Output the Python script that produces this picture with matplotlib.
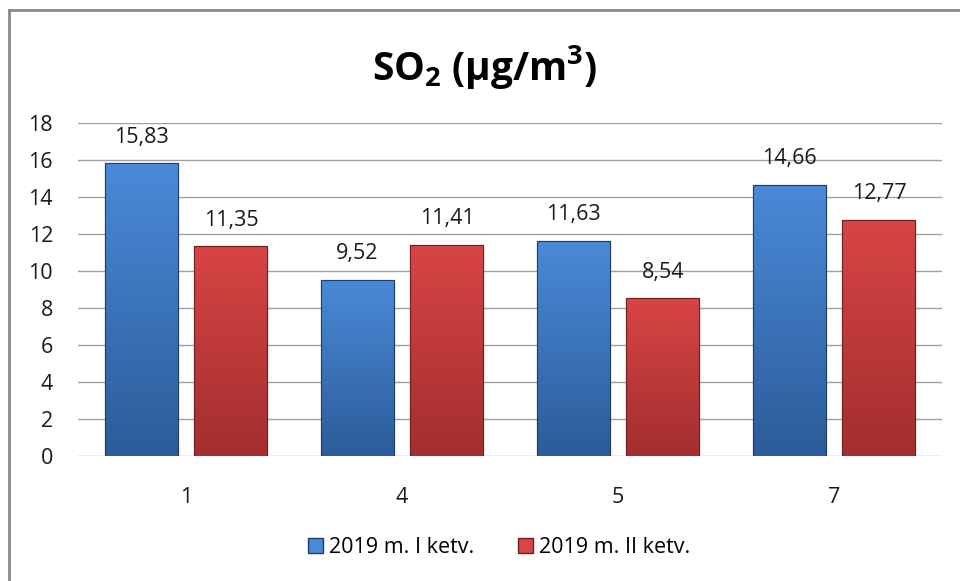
import numpy as np
import matplotlib
matplotlib.use("Agg")
import matplotlib.pyplot as plt
from matplotlib.patches import Patch
from matplotlib.lines import Line2D

plt.rcParams['font.family'] = ['Open Sans', 'DejaVu Sans']
plt.rcParams['mathtext.fontset'] = 'custom'
plt.rcParams['mathtext.rm'] = 'Open Sans:bold'
plt.rcParams['mathtext.it'] = 'Open Sans:bold'

categories = ['1', '4', '5', '7']
series_names = ['2019 m. I ketv.', '2019 m. II ketv.']
q1_values = [15.83, 9.52, 11.63, 14.66]
q2_values = [11.35, 11.41, 8.54, 12.77]
y_ticks = [0, 2, 4, 6, 8, 10, 12, 14, 16, 18]

colors_top = ['#4a8ad8', '#d84545']
colors_bot = ['#2c5c99', '#a32e2e']
edge_colors = ['#1f3f6a', '#6e1f1f']

fig = plt.figure(figsize=(9.6, 5.81), dpi=100)
ax = fig.add_axes([0.08125, 0.2151, 0.9, 0.5737])

x = np.arange(len(categories))
width = 0.338
offset = 0.208

for s, vals in enumerate([q1_values, q2_values]):
    pos = x + (-offset if s == 0 else offset)
    bars = ax.bar(pos, vals, width, color=colors_top[s], edgecolor=edge_colors[s],
                  linewidth=0.8, zorder=3)
    # vertical gradient on each bar
    grad = np.linspace(0, 1, 256).reshape(-1, 1)
    c1 = np.array(matplotlib.colors.to_rgb(colors_top[s]))
    c2 = np.array(matplotlib.colors.to_rgb(colors_bot[s]))
    img = c1 + (c2 - c1) * grad[:, :, None]
    for b in bars:
        bx, by = b.get_x(), b.get_y()
        bw, bh = b.get_width(), b.get_height()
        im = ax.imshow(img, extent=[bx, bx + bw, by, by + bh], aspect='auto',
                       origin='upper', zorder=3.5)
        im.set_clip_path(b)
        ax.add_patch(plt.Rectangle((bx, by), bw, bh, fill=False,
                                   edgecolor=edge_colors[s], linewidth=0.8, zorder=4))
        ax.annotate(f"{b.get_height():.2f}".replace('.', ','),
                    (bx + bw / 2, by + bh), xytext=(0, 11), textcoords='offset points',
                    ha='center', va='bottom', fontsize=15.5, color='#1a1a1a', zorder=5)

ax.set_xlim(-0.5, len(categories) - 0.5)
ax.set_ylim(0, 18)
ax.set_yticks(y_ticks)
ax.set_xticks(x)
ax.set_xticklabels(categories)
ax.tick_params(axis='both', length=0, labelsize=15.5, colors='#1a1a1a')
ax.tick_params(axis='y', pad=18)
ax.tick_params(axis='x', pad=22)
ax.grid(axis='y', color='#a0a0a0', linewidth=1.0, zorder=0)
ax.set_axisbelow(True)
for sp in ax.spines.values():
    sp.set_visible(False)

fig.text(0.505, 0.885, "SO$_{2}$ (µg/m$^{3}$)", ha='center', va='center',
         fontsize=28, fontweight='bold', color='black')

handles = [Patch(facecolor=colors_top[i], edgecolor=edge_colors[i]) for i in range(2)]
fig.legend(handles, series_names, loc='center', bbox_to_anchor=(0.52, 0.057),
           ncol=2, frameon=False, fontsize=15.5, handlelength=0.7, handleheight=0.7,
           columnspacing=2.0, handletextpad=0.3)

# chart border (top and left visible)
fig.add_artist(Line2D([9 / 960, 1], [1 - 10 / 581, 1 - 10 / 581], color='#8a8a8a',
                      linewidth=2, transform=fig.transFigure))
fig.add_artist(Line2D([9 / 960, 9 / 960], [0, 1 - 10 / 581], color='#8a8a8a',
                      linewidth=2, transform=fig.transFigure))

fig.savefig('out.png', dpi=100)
